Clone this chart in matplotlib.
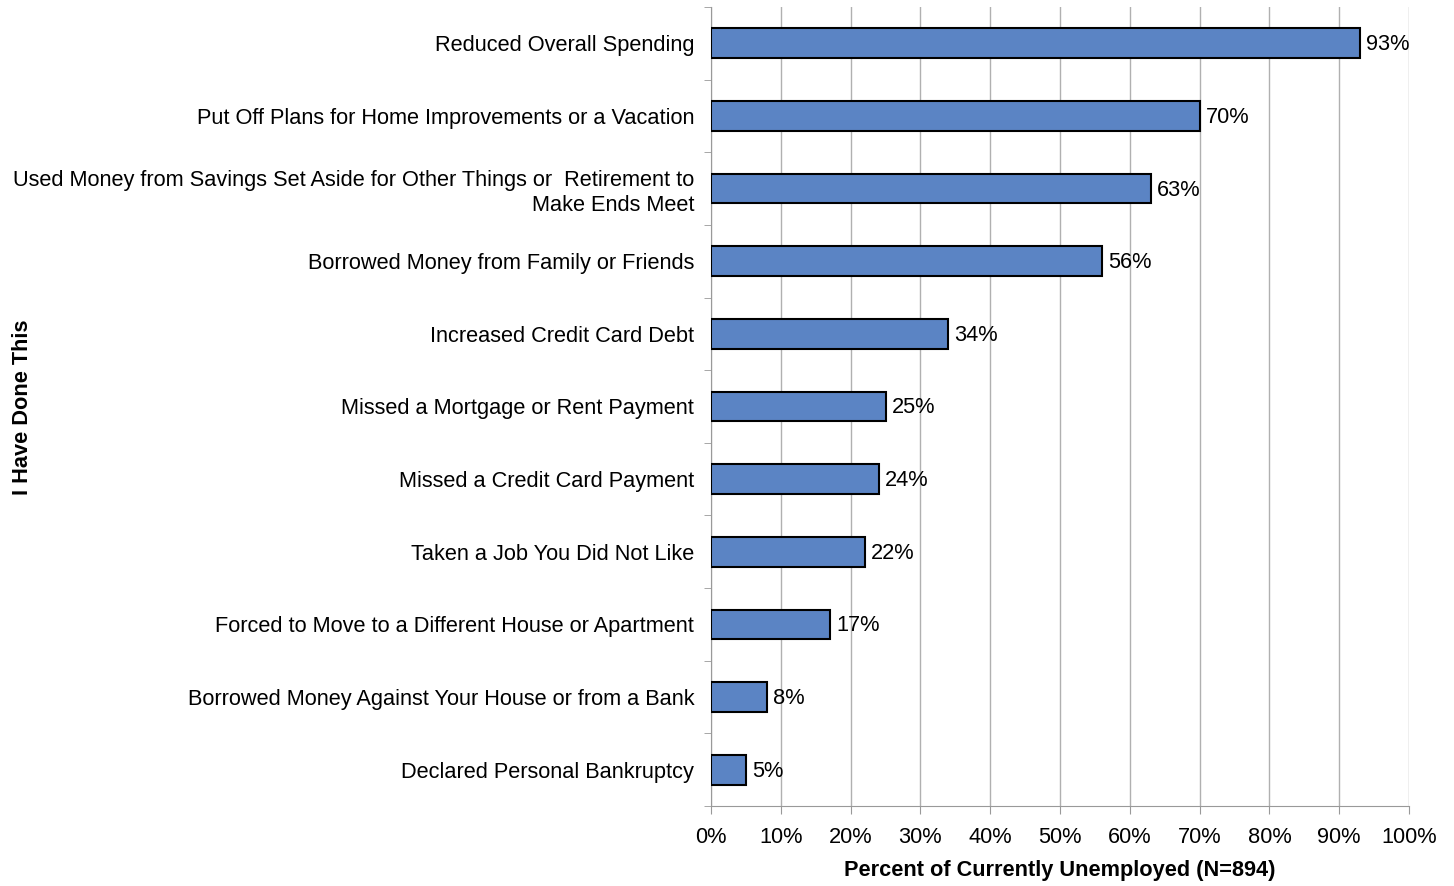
import matplotlib
matplotlib.use("Agg")
import matplotlib.pyplot as plt

categories = [
    "Reduced Overall Spending",
    "Put Off Plans for Home Improvements or a Vacation",
    "Used Money from Savings Set Aside for Other Things or  Retirement to\nMake Ends Meet",
    "Borrowed Money from Family or Friends",
    "Increased Credit Card Debt",
    "Missed a Mortgage or Rent Payment",
    "Missed a Credit Card Payment",
    "Taken a Job You Did Not Like",
    "Forced to Move to a Different House or Apartment",
    "Borrowed Money Against Your House or from a Bank",
    "Declared Personal Bankruptcy",
]
values = [93, 70, 63, 56, 34, 25, 24, 22, 17, 8, 5]
xticks = [0, 10, 20, 30, 40, 50, 60, 70, 80, 90, 100]
xticklabels = [f"{t}%" for t in xticks]

plt.rcParams['font.family'] = ['Liberation Sans', 'DejaVu Sans']

fig = plt.figure(figsize=(14.54, 8.86), dpi=100)
ax = fig.add_axes([711/1454, 1-806/886, (1409-711)/1454, (806-7)/886])

n = len(categories)
ypos = list(range(n))
ax.barh(ypos, values, height=0.41, color="#5b84c4", edgecolor="black", linewidth=1.5, zorder=3)
ax.set_ylim(n - 0.5, -0.5)
ax.set_xlim(0, 100)

for y, v in zip(ypos, values):
    ax.text(v + 0.9, y + 0.02, f"{v}%", va="center", ha="left", fontsize=15.7, zorder=4)

ax.set_xticks(xticks)
ax.set_xticklabels(xticklabels, fontsize=15.7)
ax.xaxis.grid(True, color="#b0b0b0", linewidth=1, zorder=0)
ax.set_yticks(ypos)
ax.set_yticklabels(categories, fontsize=15.7, linespacing=1.25)
ax.set_yticks([i - 0.5 for i in range(n + 1)], minor=True)
ax.tick_params(axis="y", which="major", length=0, pad=12)
ax.tick_params(axis="y", which="minor", length=5, color="#999999", direction="out")
ax.tick_params(axis="x", length=6, color="#999999", pad=9)

for s in ["top", "right"]:
    ax.spines[s].set_visible(False)
for s in ["left", "bottom"]:
    ax.spines[s].set_color("#999999")

ax.set_xlabel("Percent of Currently Unemployed (N=894)", fontsize=15.7, fontweight="bold", labelpad=9)
fig.text(23/1454, 1 - 407/886, "I Have Done This", rotation=90, fontsize=15.7, fontweight="bold",
         ha="center", va="center")

fig.savefig("out.png", dpi=100)
